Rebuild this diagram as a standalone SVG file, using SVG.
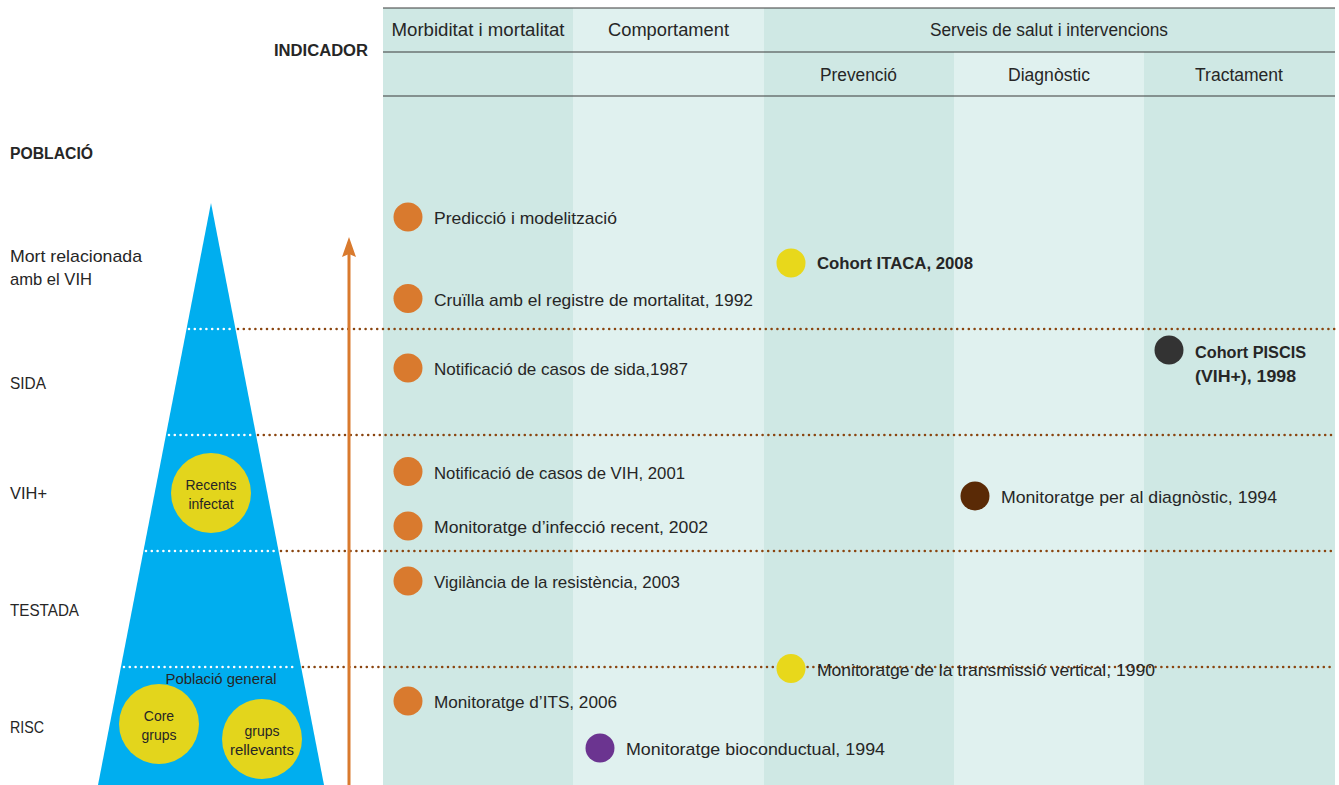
<svg xmlns="http://www.w3.org/2000/svg" width="1339" height="785" viewBox="0 0 1339 785">
<style>
text { font-family: "Liberation Sans", Arial, sans-serif; fill: #262626; }
.t { font-size: 17px; }
.h { font-size: 17.5px; text-anchor: middle; }
.b { font-size: 16px; font-weight: bold; }
.s { font-size: 14px; text-anchor: middle; }
.dk { fill: #cfe8e4; }
.lt { fill: #e0f1ef; }
.rule { stroke: #3a3a3a; stroke-width: 1.2; }
.dotb { stroke: #8a4510; stroke-width: 2.6; stroke-linecap: round; stroke-dasharray: 0 5.8; fill: none; }
.dotw { stroke: #ffffff; stroke-width: 2.6; stroke-linecap: round; stroke-dasharray: 0 5.8; fill: none; }
.or { fill: #d97a2e; }
.yl { fill: #e8d81b; }
.yc { fill: #e3d51c; }
</style>

<g id="table">
  <rect class="dk" x="383" y="8" width="190" height="777"/>
  <rect class="lt" x="573" y="8" width="191" height="777"/>
  <rect class="dk" x="764" y="8" width="190" height="777"/>
  <rect class="dk" x="954" y="8" width="190" height="44"/>
  <rect class="lt" x="954" y="52" width="190" height="733"/>
  <rect class="dk" x="1144" y="8" width="191" height="777"/>
  <line class="rule" x1="383" y1="8" x2="1335" y2="8"/>
  <line class="rule" x1="383" y1="52" x2="1335" y2="52"/>
  <line class="rule" x1="383" y1="96" x2="1335" y2="96"/>
  <text class="h" x="478" y="36" textLength="173" lengthAdjust="spacingAndGlyphs">Morbiditat i mortalitat</text>
  <text class="h" x="668.5" y="36" textLength="121" lengthAdjust="spacingAndGlyphs">Comportament</text>
  <text class="h" x="1049" y="36" textLength="238" lengthAdjust="spacingAndGlyphs">Serveis de salut i intervencions</text>
  <text class="h" x="858.5" y="81" textLength="77" lengthAdjust="spacingAndGlyphs">Prevenció</text>
  <text class="h" x="1049" y="81" textLength="82" lengthAdjust="spacingAndGlyphs">Diagnòstic</text>
  <text class="h" x="1239" y="81" textLength="88" lengthAdjust="spacingAndGlyphs">Tractament</text>
</g>

<g id="axis-labels">
  <text class="b" x="274" y="56" textLength="94" lengthAdjust="spacingAndGlyphs">INDICADOR</text>
  <text class="b" x="10" y="159" textLength="83" lengthAdjust="spacingAndGlyphs">POBLACIÓ</text>
  <text class="t" x="10" y="262" textLength="132" lengthAdjust="spacingAndGlyphs">Mort relacionada</text>
  <text class="t" x="10" y="285" textLength="82" lengthAdjust="spacingAndGlyphs">amb el VIH</text>
  <text class="t" x="10" y="389" textLength="36" lengthAdjust="spacingAndGlyphs">SIDA</text>
  <text class="t" x="10" y="499" textLength="37" lengthAdjust="spacingAndGlyphs">VIH+</text>
  <text class="t" x="10" y="616" textLength="69" lengthAdjust="spacingAndGlyphs">TESTADA</text>
  <text class="t" x="10" y="733" textLength="34" lengthAdjust="spacingAndGlyphs">RISC</text>
</g>

<g id="pyramid">
  <polygon points="211,203 324,785 98,785" fill="#00aeef"/>
  <text class="s" x="221" y="684" textLength="111" lengthAdjust="spacingAndGlyphs">Població general</text>
</g>
<g id="node-recents">
  <circle class="yc" cx="211" cy="493" r="40"/>
  <text class="s" x="211" y="490" textLength="51" lengthAdjust="spacingAndGlyphs">Recents</text>
  <text class="s" x="211" y="509">infectat</text>
</g>
<g id="node-core">
  <circle class="yc" cx="159" cy="724" r="40"/>
  <text class="s" x="159" y="721">Core</text>
  <text class="s" x="159" y="740">grups</text>
</g>
<g id="node-rellevants">
  <circle class="yc" cx="262" cy="739" r="40"/>
  <text class="s" x="262" y="736">grups</text>
  <text class="s" x="262" y="755" textLength="64" lengthAdjust="spacingAndGlyphs">rellevants</text>
</g>

<g id="connectors">
  <line class="dotw" x1="189" y1="329" x2="233" y2="329"/>
  <line class="dotb" x1="238" y1="329" x2="1335" y2="329"/>
  <line class="dotw" x1="169" y1="435" x2="253" y2="435"/>
  <line class="dotb" x1="258" y1="435" x2="1335" y2="435"/>
  <line class="dotw" x1="146" y1="551" x2="276" y2="551"/>
  <line class="dotb" x1="281" y1="551" x2="1335" y2="551"/>
  <line class="dotw" x1="124" y1="667" x2="298" y2="667"/>
  <line class="dotb" x1="303" y1="667" x2="1335" y2="667"/>
  <line x1="349" y1="785" x2="349" y2="252" stroke="#d97a2e" stroke-width="3"/>
  <polygon points="349,237 356,257 349,254 342,257" fill="#d97a2e"/>
</g>

<g id="node-prediccio">
  <circle class="or" cx="408" cy="217" r="14.5"/>
  <text class="t" x="434" y="224" textLength="183" lengthAdjust="spacingAndGlyphs">Predicció i modelització</text>
</g>
<g id="node-cruilla">
  <circle class="or" cx="408" cy="298.5" r="14.5"/>
  <text class="t" x="434" y="305.5" textLength="319" lengthAdjust="spacingAndGlyphs">Cruïlla amb el registre de mortalitat, 1992</text>
</g>
<g id="node-sida">
  <circle class="or" cx="408" cy="368" r="14.5"/>
  <text class="t" x="434" y="375" textLength="254" lengthAdjust="spacingAndGlyphs">Notificació de casos de sida,1987</text>
</g>
<g id="node-vih">
  <circle class="or" cx="408" cy="471.5" r="14.5"/>
  <text class="t" x="434" y="478.5" textLength="251" lengthAdjust="spacingAndGlyphs">Notificació de casos de VIH, 2001</text>
</g>
<g id="node-recent">
  <circle class="or" cx="408" cy="526" r="14.5"/>
  <text class="t" x="434" y="533" textLength="274" lengthAdjust="spacingAndGlyphs">Monitoratge d’infecció recent, 2002</text>
</g>
<g id="node-resistencia">
  <circle class="or" cx="408" cy="581" r="14.5"/>
  <text class="t" x="434" y="588" textLength="246" lengthAdjust="spacingAndGlyphs">Vigilància de la resistència, 2003</text>
</g>
<g id="node-its">
  <circle class="or" cx="408" cy="701" r="14.5"/>
  <text class="t" x="434" y="708" textLength="183" lengthAdjust="spacingAndGlyphs">Monitoratge d’ITS, 2006</text>
</g>
<g id="node-bioconductual">
  <circle cx="600" cy="748" r="14.5" fill="#6b3490"/>
  <text class="t" x="626" y="755" textLength="259" lengthAdjust="spacingAndGlyphs">Monitoratge bioconductual, 1994</text>
</g>
<g id="node-itaca">
  <circle class="yl" cx="791" cy="263" r="14.5"/>
  <text class="b" x="817" y="269" textLength="156" lengthAdjust="spacingAndGlyphs">Cohort ITACA, 2008</text>
</g>
<g id="node-piscis">
  <circle cx="1169" cy="350" r="14.5" fill="#333333"/>
  <text class="b" x="1195" y="358" textLength="111" lengthAdjust="spacingAndGlyphs">Cohort PISCIS</text>
  <text class="b" x="1195" y="382" textLength="101" lengthAdjust="spacingAndGlyphs">(VIH+), 1998</text>
</g>
<g id="node-diagnostic">
  <circle cx="975" cy="496" r="14.5" fill="#5a2a06"/>
  <text class="t" x="1001" y="503" textLength="276" lengthAdjust="spacingAndGlyphs">Monitoratge per al diagnòstic, 1994</text>
</g>
<g id="node-vertical">
  <circle class="yl" cx="791" cy="668.5" r="14.5"/>
  <text class="t" x="817" y="675.5" textLength="338" lengthAdjust="spacingAndGlyphs">Monitoratge de la transmissió vertical, 1990</text>
</g>
</svg>
